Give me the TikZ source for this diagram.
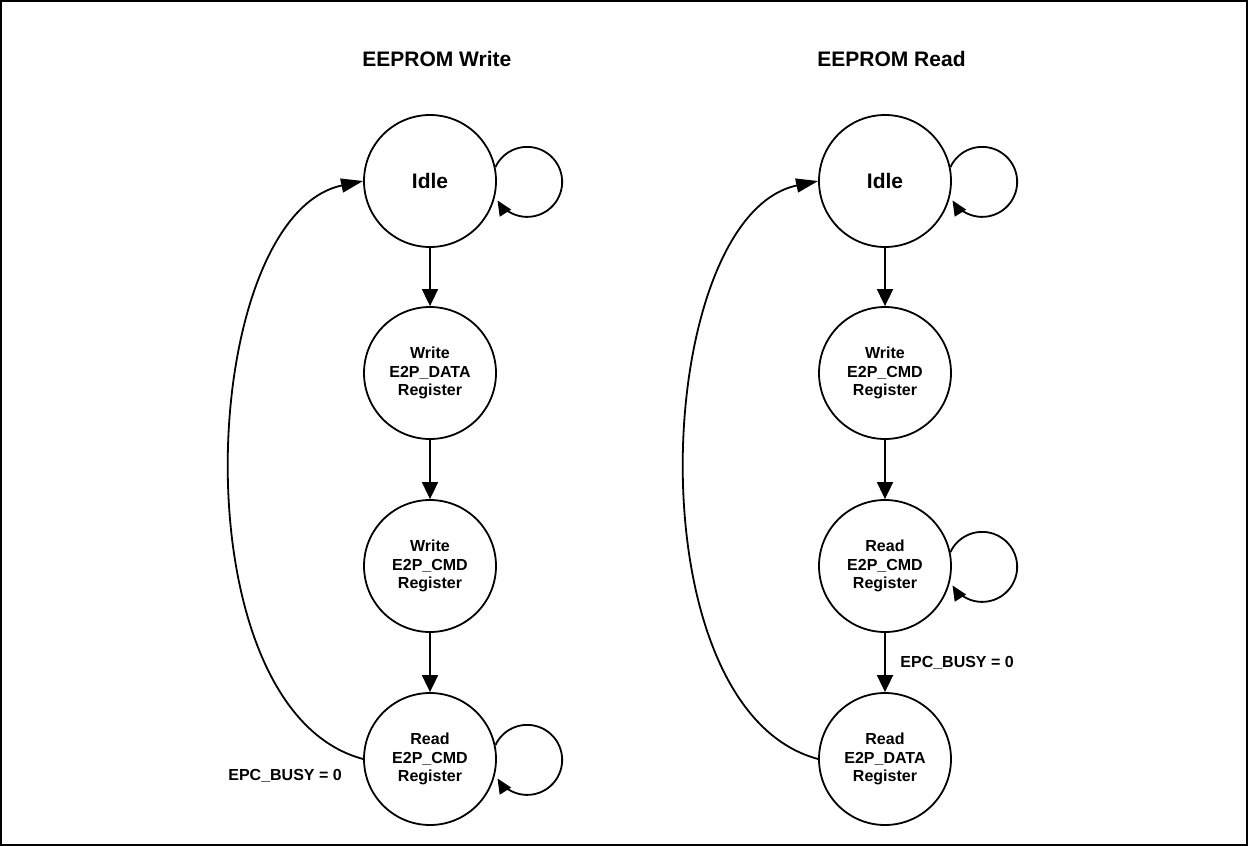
\documentclass[tikz,border=0pt]{standalone}
\usepackage{fontspec}
\setmainfont{Liberation Sans}
\usetikzlibrary{arrows.meta}
\begin{document}
\begin{tikzpicture}[x=0.5pt,y=0.5pt,
  state/.style={circle,draw,line width=0.9pt,minimum size=66pt,inner sep=0pt,align=center,font=\bfseries\fontsize{8}{9.2}\selectfont},
  idle/.style={state,font=\bfseries\fontsize{10.5}{12}\selectfont},
  title/.style={anchor=base west,inner sep=0pt,font=\bfseries\fontsize{10.5}{12}\selectfont},
  lbl/.style={anchor=base west,inner sep=0pt,font=\bfseries\fontsize{8}{9.2}\selectfont},
  trans/.style={line width=0.9pt,-{Triangle[length=8.5pt,width=8pt]}},
  selfloop/.style={line width=0.9pt,-{Triangle[length=7.5pt,width=6.5pt]}},
  back/.style={line width=0.9pt,-{Triangle[length=11pt,width=7pt]}},
]
\useasboundingbox (0,0) rectangle (1248,-846);
\draw[line width=1pt] (1,-1) rectangle (1247,-845);

% titles
\node[title] (t1) at (362,-66) {EEPROM Write};
\node[title] (t2) at (817,-66) {EEPROM Read};

% left column
\node[idle]  (wi) at (430,-181) {Idle};
\node[state] (w1) at (430,-373) {Write\\E2P\_DATA\\Register};
\node[state] (w2) at (430,-566) {Write\\E2P\_CMD\\Register};
\node[state] (w3) at (430,-759) {Read\\E2P\_CMD\\Register};

% right column
\node[idle]  (ri) at (885,-181) {Idle};
\node[state] (r1) at (885,-373) {Write\\E2P\_CMD\\Register};
\node[state] (r2) at (885,-566) {Read\\E2P\_CMD\\Register};
\node[state] (r3) at (885,-759) {Read\\E2P\_DATA\\Register};

% straight transitions
\draw[trans] (wi) -- (w1);
\draw[trans] (w1) -- (w2);
\draw[trans] (w2) -- (w3);
\draw[trans] (ri) -- (r1);
\draw[trans] (r1) -- (r2);
\draw[trans] (r2) -- (r3);

% self loops
\draw[selfloop] (wi.12) arc[start angle=155,end angle=-148,radius=17.5pt];
\draw[selfloop] (w3.12) arc[start angle=155,end angle=-148,radius=17.5pt];
\draw[selfloop] (ri.12) arc[start angle=155,end angle=-148,radius=17.5pt];
\draw[selfloop] (r2.12) arc[start angle=155,end angle=-148,radius=17.5pt];

% return arcs
\draw[back] (w3.west) .. controls +(-188,50) and +(-166,-35) .. (wi.west);
\draw[back] (r3.west) .. controls +(-188,50) and +(-166,-35) .. (ri.west);

% labels
\node[lbl] (l1) at (228,-780) {EPC\_BUSY = 0};
\node[lbl] (l2) at (900,-667) {EPC\_BUSY = 0};
\end{tikzpicture}
\end{document}
